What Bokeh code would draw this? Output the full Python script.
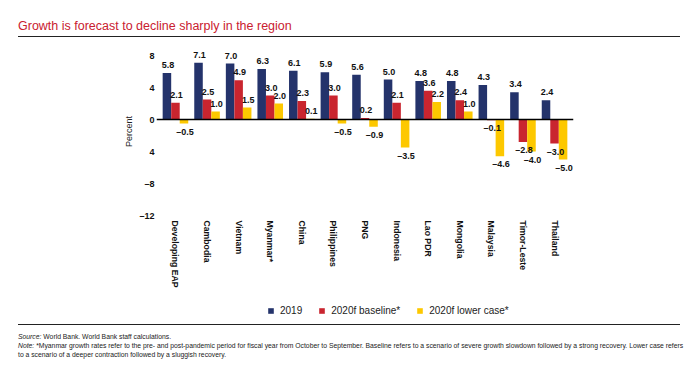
from bokeh.plotting import figure
from bokeh.models import (FactorRange, Range1d, ColumnDataSource, Legend, LegendItem,
                          Span, FixedTicker, Div)
from bokeh.layouts import column
from bokeh.transform import dodge
from bokeh.core.properties import value
from bokeh.embed import file_html
from bokeh.resources import INLINE

categories = ["Developing EAP", "Cambodia", "Vietnam", "Myanmar*", "China", "Philippines",
              "PNG", "Indonesia", "Lao PDR", "Mongolia", "Malaysia", "Timor-Leste", "Thailand"]
growth_2019 = [5.8, 7.1, 7.0, 6.3, 6.1, 5.9, 5.6, 5.0, 4.8, 4.8, 4.3, 3.4, 2.4]
growth_2020_baseline = [2.1, 2.5, 4.9, 3.0, 2.3, 3.0, 0.2, 2.1, 3.6, 2.4, -0.1, -2.8, -3.0]
growth_2020_lower = [-0.5, 1.0, 1.5, 2.0, 0.1, -0.5, -0.9, -3.5, 2.2, 1.0, -4.6, -4.0, -5.0]
series_names = ["2019", "2020f baseline*", "2020f lower case*"]
y_ticks = [8, 4, 0, -4, -8, -12]
y_tick_labels = ["8", "4", "0", "4", "\u20138", "\u201312"]

title_text = "Growth is forecast to decline sharply in the region"
source_text = "World Bank. World Bank staff calculations."
note_text1 = ("*Myanmar growth rates refer to the pre- and post-pandemic period for fiscal year from October to September. "
              "Baseline refers to a scenario of severe growth slowdown followed by a strong recovery. Lower case refers")
note_text2 = "to a scenario of a deeper contraction followed by a sluggish recovery."

colors = ["#24336b", "#c9252f", "#fdc800"]
FONT = "Liberation Sans"
W = 690
LB, RB = 156, 117

# ---- title block ----
title_div = Div(text=title_text, width=662, height=18, margin=(19, 0, 0, 18),
                styles={"font-family": "'Liberation Sans', sans-serif", "font-size": "12.5px",
                        "color": "#c9202f", "line-height": "14px", "white-space": "nowrap",
                        "border-bottom": "1.5px solid #222222"})

# ---- main chart ----
p = figure(x_range=FactorRange(factors=categories, range_padding=0.1, range_padding_units="absolute"),
           y_range=Range1d(-12, 9),
           width=W, height=263, output_backend="svg", toolbar_location=None,
           min_border_left=LB, min_border_right=RB, min_border_top=10, min_border_bottom=85)
p.outline_line_color = None
p.xgrid.visible = False
p.ygrid.visible = False

src = ColumnDataSource(dict(cat=categories, a=growth_2019, b=growth_2020_baseline, c=growth_2020_lower))
bw = 0.27
offsets = [-bw, 0.0, bw]
for key, off, col in zip(["a", "b", "c"], offsets, colors):
    p.vbar(x=dodge("cat", off, range=p.x_range), top=key, bottom=0, width=bw,
           source=src, fill_color=col, line_color=None)

for key, vals, off in zip(["a", "b", "c"], [growth_2019, growth_2020_baseline, growth_2020_lower], offsets):
    txt = [("%.1f" % v).replace("-", "\u2013") for v in vals]
    yoff = [-8 if v >= 0 else 8 for v in vals]
    ls = ColumnDataSource(dict(cat=categories, v=vals, t=txt, yo=yoff))
    p.text(x=dodge("cat", off, range=p.x_range), y="v", text="t", y_offset="yo", x_offset=1,
           source=ls, text_align="center", text_baseline="middle",
           text_font=value(FONT), text_font_style="bold", text_font_size="9px", text_color="#111111")

p.add_layout(Span(location=0, dimension="width", line_color="#000000", line_width=1.5))

xa = p.xaxis[0]
xa.axis_line_color = None
xa.major_tick_line_color = None
xa.minor_tick_line_color = None
xa.major_tick_out = 0
xa.major_tick_in = 0
xa.major_label_orientation = "vertical"
xa.major_label_standoff = 5
xa.major_label_text_font = FONT
xa.major_label_text_font_style = "bold"
xa.major_label_text_font_size = "8.7px"
xa.major_label_text_color = "#111111"

ya = p.yaxis[0]
ya.ticker = FixedTicker(ticks=y_ticks)
ya.major_label_overrides = {tk: lb for tk, lb in zip(y_ticks, y_tick_labels)}
ya.axis_line_color = None
ya.major_tick_line_color = None
ya.minor_tick_line_color = None
ya.major_tick_out = 0
ya.major_tick_in = 0
ya.minor_tick_out = 0
ya.major_label_standoff = 2
ya.major_label_text_font = FONT
ya.major_label_text_font_style = "bold"
ya.major_label_text_font_size = "9px"
ya.major_label_text_color = "#111111"
ya.axis_label = "Percent"
ya.axis_label_text_font = FONT
ya.axis_label_text_font_style = "normal"
ya.axis_label_text_font_size = "9px"
ya.axis_label_standoff = 2
ya.axis_label_text_color = "#222222"

# ---- legend block ----
lg = figure(width=W, height=22, output_backend="svg", toolbar_location=None,
            x_range=Range1d(0, 1), y_range=Range1d(0, 1),
            x_axis_location=None, y_axis_location=None,
            min_border_left=LB, min_border_right=RB, min_border_top=0, min_border_bottom=0)
lg.outline_line_color = None
lg.grid.visible = False
# zero-height proxy glyphs (nothing visible) that only carry the legend colours
proxies = [lg.vbar(x=[0], top=[0], bottom=[0], width=0, fill_color=col, line_color=None) for col in colors]
leg = Legend(items=[LegendItem(label=n, renderers=[r]) for n, r in zip(series_names, proxies)],
             orientation="horizontal", location=(111, 6),
             glyph_width=7, glyph_height=7, label_standoff=6, spacing=16,
             label_height=12, padding=0, margin=0, border_line_alpha=0,
             background_fill_alpha=0, label_text_font=FONT, label_text_font_size="10px",
             label_text_color="#222222")
lg.add_layout(leg, "center")

# ---- notes block ----
notes_div = Div(text=('<i>Source:</i> ' + source_text + '<br>'
                      '<i>Note:</i> ' + note_text1 + '<br>' + note_text2),
                width=662, height=40, margin=(2, 0, 0, 18),
                styles={"font-family": "'Liberation Sans', sans-serif", "font-size": "6.8px",
                        "color": "#222222", "line-height": "9px", "white-space": "nowrap",
                        "border-top": "1.5px solid #222222", "padding-top": "7px"})

layout = column(title_div, p, lg, notes_div, spacing=0)
open("out.html", "w").write(file_html(layout, INLINE))
